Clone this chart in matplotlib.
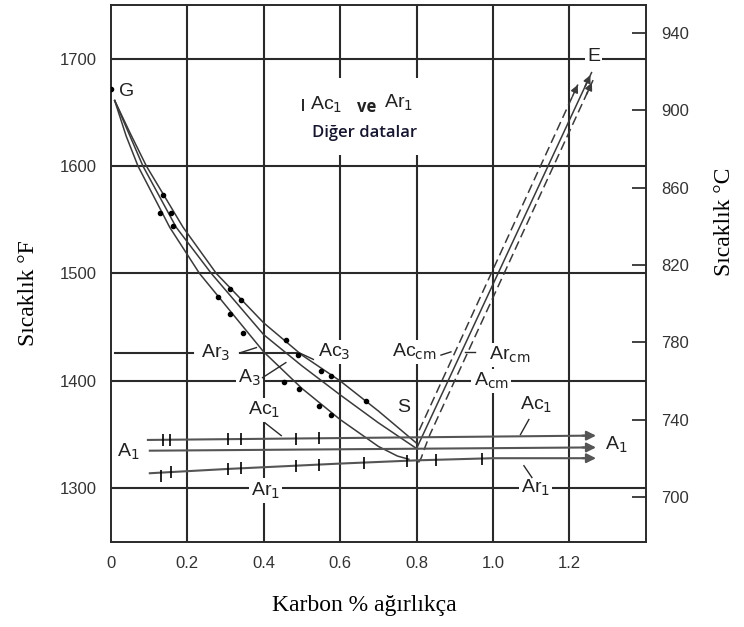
import matplotlib.pyplot as plt
from matplotlib.patches import Rectangle
import numpy as np

# ---- data (weight % C, temperature in F) ----
ac3_x = [0.01, 0.05, 0.093, 0.189, 0.276, 0.40, 0.50, 0.60, 0.70, 0.80]
ac3_f = [1661, 1631, 1600, 1543, 1500, 1454, 1424, 1400, 1372, 1342]
a3_x = [0.01, 0.05, 0.084, 0.171, 0.263, 0.40, 0.50, 0.60, 0.70, 0.80]
a3_f = [1661, 1628, 1600, 1543, 1500, 1443, 1414, 1387, 1361, 1337]
ar3_x = [0.01, 0.04, 0.071, 0.154, 0.232, 0.40, 0.50, 0.60, 0.70, 0.75, 0.78]
ar3_f = [1661, 1628, 1600, 1543, 1500, 1427, 1393, 1364, 1339, 1330, 1327]

ac3_dot_x = [0.137, 0.158, 0.311, 0.341, 0.459, 0.489, 0.550, 0.576, 0.668]
ac3_dot_f = [1573, 1556, 1486, 1475, 1438, 1424, 1409, 1405, 1381]
ar3_dot_x = [0.128, 0.163, 0.280, 0.311, 0.345, 0.454, 0.493, 0.544, 0.576]
ar3_dot_f = [1556, 1544, 1478, 1462, 1445, 1399, 1392, 1377, 1368]

accm_x = [0.807, 1.225]
accm_f = [1354, 1678]
acm_x = [0.800, 1.258]
acm_f = [1337, 1687]
arcm_x = [0.805, 0.812, 0.822, 0.835, 1.262]
arcm_f = [1324, 1328, 1338, 1350, 1680]

ac1_x = [0.097, 1.277]
ac1_f = [1345, 1349]
a1_x = [0.102, 1.277]
a1_f = [1335, 1338]
ar1_x = [0.102, 0.306, 0.60, 0.80, 1.00, 1.277]
ar1_f = [1314, 1318, 1323, 1326, 1328, 1328]

ac1_tick_x = [0.136, 0.154, 0.306, 0.341, 0.485, 0.546]
ar1_tick_x = [0.158, 0.306, 0.341, 0.485, 0.546, 0.663, 0.776, 0.850, 0.972]

x_ticks = [0, 0.2, 0.4, 0.6, 0.8, 1.0, 1.2]
x_tick_labels = ['0', '0.2', '0.4', '0.6', '0.8', '1.0', '1.2']
f_ticks = [1300, 1400, 1500, 1600, 1700]
c_ticks = [700, 740, 780, 820, 860, 900, 940]

G = (0.0, 1672)
E_label = (1.264, 1702)

dark = '#2a2a2a'
curve_c = '#3a3a3a'
arial = 'Liberation Sans'
serif = 'Liberation Serif'

fig = plt.figure(figsize=(7.44, 6.27), dpi=100)
ax = fig.add_axes([0.149, 0.1356, 0.719, 0.8565])
ax.set_xlim(0, 1.4)
ax.set_ylim(1250, 1750)

# grid
for xv in [0.2, 0.4, 0.6, 0.8, 1.0, 1.2]:
    ax.axvline(xv, color=dark, lw=1.5, zorder=0.5)
for fv in f_ticks:
    ax.axhline(fv, color=dark, lw=1.5, zorder=0.5)
for s in ax.spines.values():
    s.set_color(dark)
    s.set_linewidth(1.4)

# white area behind annotation text
ax.add_patch(Rectangle((0.49, 1610), 0.33, 72, facecolor='white',
                       edgecolor='none', zorder=1))

# A3 curves
ax.plot(ac3_x, ac3_f, color=curve_c, lw=1.1, zorder=3)
ax.plot(a3_x, a3_f, color=curve_c, lw=1.1, zorder=3)
ax.plot(ar3_x, ar3_f, color=curve_c, lw=1.1, zorder=3)
ax.plot(ac3_dot_x, ac3_dot_f, 'o', color='black', ms=3, zorder=4)
ax.plot(ar3_dot_x, ar3_dot_f, 'o', color='black', ms=3, zorder=4)
ax.plot(*G, 'o', color='black', ms=3, zorder=4)

# Acm lines with arrows
arr = dict(arrowstyle='-|>', color=curve_c, lw=1.1, mutation_scale=11)
ax.plot(accm_x, accm_f, color=curve_c, lw=1.1, dashes=(6, 3), zorder=3)
ax.plot(acm_x, acm_f, color=curve_c, lw=1.1, zorder=3)
ax.plot(arcm_x, arcm_f, color=curve_c, lw=1.1, dashes=(6, 3), zorder=3)
for xs, fs in [(accm_x, accm_f), (acm_x, acm_f), (arcm_x, arcm_f)]:
    ax.annotate('', xy=(xs[-1], fs[-1]),
                xytext=(xs[-1] - 0.02, fs[-1] - 0.02 * (fs[-1] - fs[-2]) / (xs[-1] - xs[-2])),
                arrowprops=arr, zorder=4)

# A1 lines
line_c = '#555555'
arr1 = dict(arrowstyle='-|>', color=line_c, lw=1.5, mutation_scale=14)
for xs, fs in [(ac1_x, ac1_f), (a1_x, a1_f), (ar1_x, ar1_f)]:
    ax.plot(xs[:-1] + [xs[-1] - 0.03], fs[:-1] + [fs[-1]], color=line_c, lw=1.5, zorder=3)
    ax.annotate('', xy=(xs[-1], fs[-1]), xytext=(xs[-1] - 0.05, fs[-1]),
                arrowprops=arr1, zorder=4)
ax.plot(ac1_tick_x, np.interp(ac1_tick_x, ac1_x, ac1_f), '|', color='black',
        ms=8, mew=1.2, zorder=4)
ax.plot(ar1_tick_x, np.interp(ar1_tick_x, ar1_x, ar1_f), '|', color='black',
        ms=8, mew=1.2, zorder=4)
ax.plot([0.131], [1311], '|', color='black', ms=8, mew=1.2, zorder=4)

# short horizontal line near Ar3
ax.plot([0.01, 0.214], [1426, 1426], color=dark, lw=1.5, zorder=2)
ax.plot([0.337, 0.486], [1426, 1426], color=dark, lw=1.5, zorder=2)

# leader lines
leaders = [((0.337, 1426), (0.381, 1431)),
           ((0.530, 1420), (0.494, 1426)),
           ((0.397, 1403), (0.458, 1417)),
           ((0.864, 1424), (0.890, 1427)),
           ((0.952, 1427), (0.926, 1427)),
           ((0.403, 1361), (0.446, 1349)),
           ((1.094, 1364), (1.072, 1350)),
           ((1.102, 1310), (1.081, 1321))]
for (x0, f0), (x1, f1) in leaders:
    ax.plot([x0, x1], [f0, f1], color=dark, lw=1.0, zorder=3)

# labels
wb = dict(facecolor='white', edgecolor='none', pad=1.5)
def lab(x, f, s, size=14, **kw):
    ax.text(x, f, s, fontsize=size, family=arial, ha='center', va='center',
            color='#222222', zorder=2.5, **kw)

lab(0.04, 1669, 'G', 14)
lab(*E_label, 'E', 14, bbox=wb)
lab(0.765, 1375, 'S', 14)
lab(0.274, 1426, 'Ar$_3$', bbox=wb)
lab(0.585, 1427, 'Ac$_3$', bbox=wb)
lab(0.363, 1403, 'A$_3$', bbox=wb)
lab(0.795, 1427, r'Ac$_\mathrm{cm}$', bbox=wb)
lab(1.045, 1424, r'Ar$_\mathrm{cm}$', bbox=wb)
lab(0.995, 1400, r'A$_\mathrm{cm}$', bbox=wb)
lab(0.402, 1373, 'Ac$_1$', bbox=wb)
lab(1.112, 1378, 'Ac$_1$', bbox=wb)
lab(0.045, 1334, 'A$_1$', bbox=wb)
lab(1.322, 1340, 'A$_1$', bbox=wb)
lab(0.405, 1298, 'Ar$_1$', bbox=wb)
lab(1.112, 1300, 'Ar$_1$', bbox=wb)

ax.plot([0.502], [1657], '|', color='black', ms=8, mew=1.2, zorder=4)
lab(0.563, 1657, 'Ac$_1$', 14)
ax.text(0.67, 1655, 've', fontsize=12, family='Open Sans', weight='bold',
        ha='center', va='center', color='#222222', zorder=2.5)
lab(0.753, 1659, 'Ar$_1$', 14)
ax.text(0.663, 1631, 'Diğer datalar', fontsize=12, family='Open Sans',
        weight='semibold', ha='center', va='center', color='#15152e', zorder=2.5)

# axes ticks
ax.set_xticks(x_ticks, x_tick_labels)
ax.set_yticks(f_ticks)
ax.tick_params(length=0, labelsize=12, colors='#333333', pad=10)
for t in ax.get_xticklabels() + ax.get_yticklabels():
    t.set_family(arial)

sec = ax.secondary_yaxis('right', functions=(lambda f: (f - 32) * 5 / 9,
                                              lambda c: c * 9 / 5 + 32))
sec.set_yticks(c_ticks)
sec.tick_params(direction='in', length=10, width=1.3, labelsize=12,
                colors='#333333', pad=11)
sec.spines['right'].set_visible(False)
for t in sec.get_yticklabels():
    t.set_family(arial)

fig.text(0.038, 0.533, 'Sıcaklık °F', rotation=90, fontsize=17, family=serif,
         ha='center', va='center')
fig.text(0.974, 0.646, 'Sıcaklık °C', rotation=90, fontsize=17, family=serif,
         ha='center', va='center')
fig.text(0.489, 0.035, 'Karbon % ağırlıkça', fontsize=17, family=serif,
         ha='center', va='center')

plt.savefig('out.png', dpi=100)
